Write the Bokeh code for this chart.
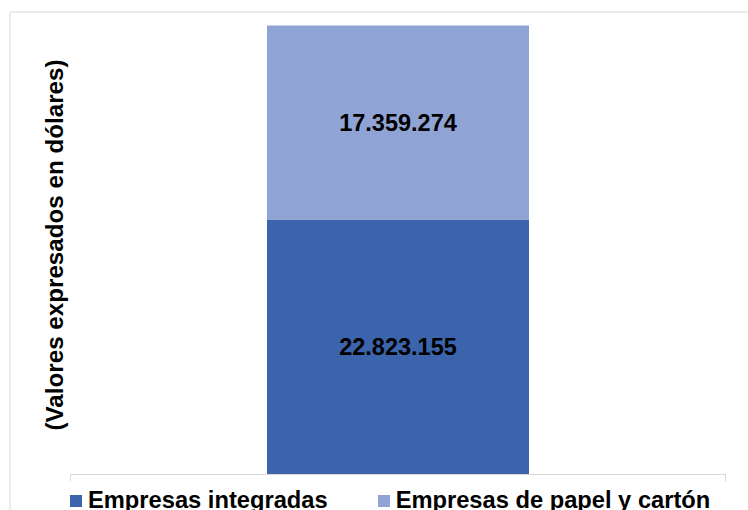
import math
from bokeh.plotting import figure
from bokeh.models import ColumnDataSource, Range1d, Legend, LegendItem
from bokeh.embed import file_html
from bokeh.resources import INLINE
from bokeh.core.properties import value

# ---- data ----
series = ["Empresas integradas", "Empresas de papel y cartón"]
values = [22823155, 17359274]
value_labels = ["22.823.155", "17.359.274"]
colors = ["#3B64AC", "#8FA3D4"]
y_title = "(Valores expresados en dólares)"

FONT = "Liberation Sans"
GRAY = "#D9D9D9"

# ---- layout (canvas pixels) ----
W, H = 748, 510
PL, PR, PT, PB = 70, 725, 25, 474      # plot area
BL, BT = 9.5, 11.5                      # outer chart-area border

total = sum(values)
xs_per_px = 1.0 / (PR - PL)             # x data domain [0, 1] spans the plot area
ys_per_px = total / (PB - PT)           # y data domain [0, total] spans the plot area


def px_x(px):
    return (px - PL) * xs_per_px


def px_y(py):
    return (PB - py) * ys_per_px


bottoms = [0, values[0]]
tops = [values[0], values[0] + values[1]]
mids = [(b + t) / 2 for b, t in zip(bottoms, tops)]

src = ColumnDataSource(dict(
    x=[0.5, 0.5], bottom=bottoms, top=tops, mid=mids,
    color=colors, name=series, text=value_labels,
))

p = figure(width=W, height=H,
           x_range=Range1d(px_x(0), px_x(W)), y_range=Range1d(px_y(H), px_y(0)),
           output_backend="svg", toolbar_location=None,
           x_axis_location=None, y_axis_location=None,
           min_border=0)
p.background_fill_color = "white"
p.border_fill_color = "white"
p.outline_line_color = None
p.grid.visible = False

# outer border (left and top edges visible, the rest is outside the window)
p.segment(x0=[px_x(BL), px_x(BL)], y0=[px_y(BT), px_y(BT)],
          x1=[px_x(BL), px_x(W + 5)], y1=[px_y(H + 5), px_y(BT)],
          line_color=GRAY, line_width=1)

r = p.vbar(x="x", width=0.4, bottom="bottom", top="top",
           fill_color="color", line_color=None, source=src)

p.text(x="x", y="mid", text="text", source=src,
       text_align="center", text_baseline="middle",
       text_font=value(FONT), text_font_style="bold",
       text_font_size="23.5px", text_color="black")

# category axis line with boundary ticks
p.segment(x0=[0, 0, 1], y0=[0, 0, 0], x1=[1, 0, 1], y1=[0, px_y(PB + 7), px_y(PB + 7)],
          line_color=GRAY, line_width=1)

# y axis title
p.text(x=[px_x(54)], y=[px_y((PT + PB) / 2 - 5)], text=[y_title], angle=math.pi / 2,
       text_align="center", text_baseline="middle",
       text_font=value(FONT), text_font_style="bold",
       text_font_size="24.2px", text_color="black")

legend = Legend(
    items=[LegendItem(label=series[i], renderers=[r], index=i) for i in range(len(series))],
    orientation="horizontal", location=(68, -4),
    glyph_width=15, glyph_height=15, label_standoff=5, spacing=48,
    padding=0, margin=0, border_line_color=None, background_fill_alpha=0,
    label_text_font=FONT, label_text_font_style="bold",
    label_text_font_size="23.7px", label_text_color="black",
)
p.add_layout(legend)

open("out.html", "w").write(file_html(p, INLINE))
